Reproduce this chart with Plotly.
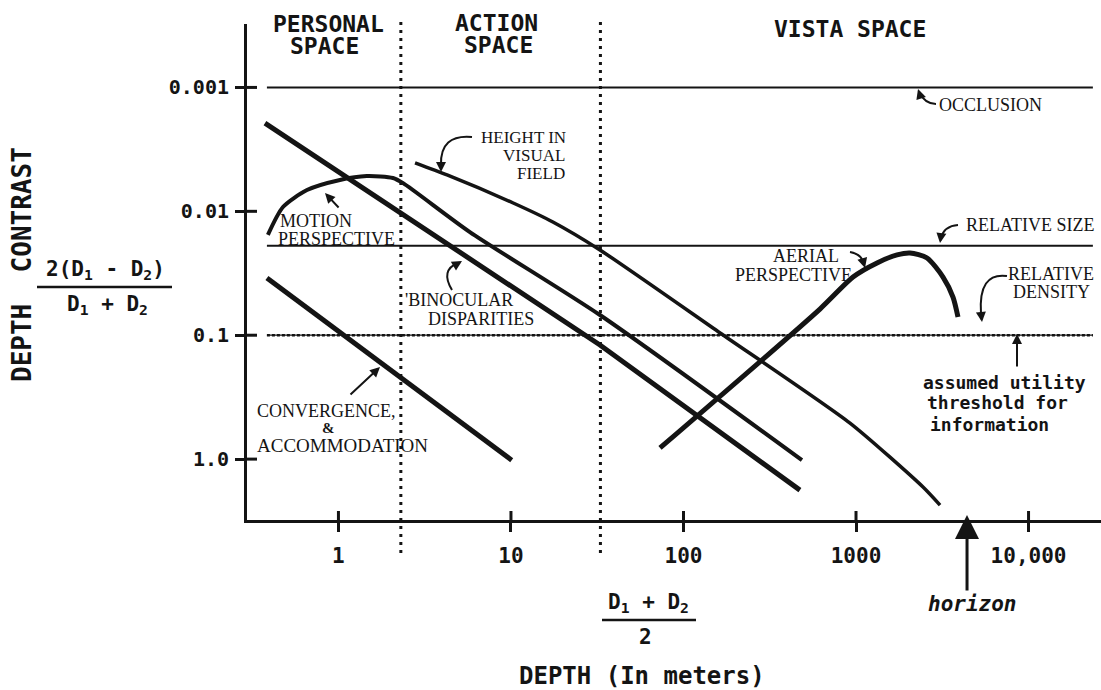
import math
import plotly.graph_objects as go

# ---------------- data ----------------
x_tick_vals = [1, 10, 100, 1000, 10000]
x_tick_text = ["1", "10", "100", "1000", "10,000"]
y_tick_vals = [0.001, 0.01, 0.1, 1.0]
y_tick_text = ["0.001", "0.01", "0.1", "1.0"]

space_bounds_m = [2.3, 33]          # personal|action, action|vista
horizon_m = 4400

occlusion_x = [0.385, 23600]
occlusion_y = [0.001, 0.001]
rel_size_x = [0.385, 23600]
rel_size_y = [0.019, 0.019]
threshold_x = [0.385, 23600]
threshold_y = [0.1, 0.1]

binoc_x = [0.375, 32.8, 473]
binoc_y = [0.00194, 0.120, 1.78]

motion_x = [0.390, 0.477, 0.657, 1.02, 1.46, 2.07, 2.37, 5.78, 32.8, 486]
motion_y = [0.0155, 0.00923, 0.00673, 0.00558, 0.00519, 0.00538, 0.00592, 0.0147, 0.0687, 1.02]

height_x = [2.78, 4.26, 10.3, 17.5, 32.8, 163, 923, 2445, 3069]
height_y = [0.00407, 0.00509, 0.00857, 0.0122, 0.0205, 0.0959, 0.512, 1.68, 2.35]

conv_x = [0.385, 10.1]
conv_y = [0.0345, 1.02]

aerial_x = [73.1, 618, 961, 1324, 1729, 2056, 2581, 3194, 3649, 3900]
aerial_y = [0.813, 0.0615, 0.0339, 0.0261, 0.0225, 0.0217, 0.0238, 0.0339, 0.0492, 0.0713]

# ---------------- layout helpers ----------------
W, H = 1101, 690
ML, MR, MT, MB = 247, 0, 24, 170
PW, PH = W - ML - MR, H - MT - MB
INK = "#141414"
SERIF = "Liberation Serif, Times New Roman, serif"
MONO = "DejaVu Sans Mono, monospace"


def px(xp):
    return (xp - ML) / PW


def py(yp):
    return (H - MB - yp) / PH


fig = go.Figure()


def line(x, y, w, spline=False, smooth=0.6, dash=None):
    fig.add_trace(go.Scatter(
        x=x, y=y, mode="lines", hoverinfo="skip", showlegend=False,
        line=dict(color=INK, width=w, dash=dash,
                  shape="spline" if spline else "linear", smoothing=smooth)))


line(occlusion_x, occlusion_y, 2)
line(rel_size_x, rel_size_y, 2)
line(threshold_x, threshold_y, 1.2)
line(threshold_x, threshold_y, 2.6, dash="3px,2px")
line(binoc_x, binoc_y, 5)
line(motion_x, motion_y, 4, spline=True, smooth=0.7)
line(height_x, height_y, 3.5, spline=True, smooth=0.6)
line(conv_x, conv_y, 5)
line(aerial_x, aerial_y, 5, spline=True, smooth=0.7)

shapes = []
# space boundaries (dotted verticals)
for b in space_bounds_m:
    shapes.append(dict(type="line", xref="x", yref="paper", x0=b, x1=b,
                       y0=py(553), y1=py(21),
                       line=dict(color=INK, width=3, dash="3px,5px")))
# inner halves of tick marks
for v in x_tick_vals:
    shapes.append(dict(type="line", xref="x", yref="paper", ysizemode="pixel",
                       yanchor=0, x0=v, x1=v, y0=0, y1=9,
                       line=dict(color=INK, width=3)))
for v in y_tick_vals:
    shapes.append(dict(type="line", yref="y", xref="paper", xsizemode="pixel",
                       xanchor=0, y0=v, y1=v, x0=0, x1=10,
                       line=dict(color=INK, width=3)))
# fraction bars
shapes.append(dict(type="line", xref="paper", yref="paper",
                   x0=px(37), x1=px(172), y0=py(287), y1=py(287),
                   line=dict(color=INK, width=2.5)))
shapes.append(dict(type="line", xref="paper", yref="paper",
                   x0=px(602), x1=px(696), y0=py(620), y1=py(620),
                   line=dict(color=INK, width=2.5)))


def curve(p0, c, p1, w=2):
    path = "M {} {} Q {} {} {} {}".format(px(p0[0]), py(p0[1]), px(c[0]), py(c[1]),
                                          px(p1[0]), py(p1[1]))
    shapes.append(dict(type="path", xref="paper", yref="paper", path=path,
                       line=dict(color=INK, width=w)))


ann = []


def text(x, y, t, family=SERIF, size=18, anchor="center", bold=False, italic=False, angle=0):
    ann.append(dict(xref="paper", yref="paper", x=px(x), y=py(y), text=t,
                    showarrow=False, xanchor=anchor, yanchor="middle", textangle=angle,
                    borderpad=0,
                    font=dict(family=family, size=size, color=INK,
                              weight="bold" if bold else "normal",
                              style="italic" if italic else "normal")))


def arrow(head, tail, w=2, size=1.0, head_style=2):
    ann.append(dict(xref="paper", yref="paper", x=px(head[0]), y=py(head[1]),
                    ax=tail[0] - head[0], ay=tail[1] - head[1], text="",
                    showarrow=True, arrowhead=head_style, arrowsize=size,
                    arrowwidth=w, arrowcolor=INK, standoff=0, startstandoff=0))


# headings
text(328, 24, "PERSONAL", MONO, 23, bold=True)
text(324, 46, "SPACE", MONO, 23, bold=True)
text(496, 23, "ACTION", MONO, 23, bold=True)
text(498, 45, "SPACE", MONO, 23, bold=True)
text(850, 29, "VISTA SPACE", MONO, 23, bold=True)

# curve labels
text(938, 105, "OCCLUSION", anchor="left")
curve((936, 104), (925, 104), (919, 92))
arrow((918, 89), (920, 95))

text(1095, 225, "RELATIVE SIZE", anchor="right")
curve((958, 225), (944, 226), (941, 238))
arrow((940, 243), (941, 236))

text(567, 137, "HEIGHT IN", anchor="right", size=17)
text(566, 155, "VISUAL", anchor="right", size=17)
text(566, 174, "FIELD", anchor="right", size=17)
curve((472, 137), (440, 134), (441, 165))
arrow((441, 172), (441, 164))

text(279, 221, "MOTION", anchor="left")
text(277, 239, "PERSPECTIVE", anchor="left")
arrow((325, 193), (340, 209))

text(404, 300, "'BINOCULAR", anchor="left")
text(427, 319, "DISPARITIES", anchor="left")
curve((452, 290), (440, 270), (458, 263))
arrow((462, 261), (457, 264))

text(256, 411, "CONVERGENCE,", anchor="left")
text(328, 428, "&", size=15, bold=True)
text(256, 445, "ACCOMMODATION", anchor="left", size=19)
arrow((380, 367), (349, 396))

text(840, 256, "AERIAL", anchor="right")
text(853, 275, "PERSPECTIVE", anchor="right")
curve((850, 252), (861, 254), (863, 262))
arrow((865, 268), (863, 261))

text(1095, 274, "RELATIVE", anchor="right")
text(1091, 292, "DENSITY", anchor="right")
curve((1007, 276), (978, 272), (981, 314))
arrow((982, 322), (981, 313))

text(922, 382, "assumed utility", MONO, 18, anchor="left", bold=True)
text(926, 402, "threshold for", MONO, 18, anchor="left", bold=True)
text(929, 424, "information", MONO, 18, anchor="left", bold=True)
arrow((1017, 334), (1017, 368))

# horizon
ann.append(dict(xref="x", yref="paper", x=math.log10(horizon_m), y=py(515),
                ax=0, ay=77, text="", showarrow=True, arrowhead=2, arrowsize=1.6,
                arrowwidth=3, arrowcolor=INK, standoff=0))
text(972, 604, "horizon", MONO, 21, bold=True, italic=True)

# axis titles
text(648, 603, "D<sub>1</sub> + D<sub>2</sub>", MONO, 21, bold=True)
text(645, 637, "2", MONO, 21, bold=True)
text(642, 676, "DEPTH (In meters)", MONO, 24, bold=True)

text(105, 270, "2(D<sub>1</sub> - D<sub>2</sub>)", MONO, 21, bold=True)
text(107, 305, "D<sub>1</sub> + D<sub>2</sub>", MONO, 21, bold=True)
text(22, 265, "DEPTH  CONTRAST", MONO, 26, bold=True, angle=-90)

fig.update_layout(
    width=W, height=H,
    margin=dict(l=ML, r=MR, t=MT, b=MB, pad=0),
    paper_bgcolor="white", plot_bgcolor="white",
    showlegend=False,
    shapes=shapes, annotations=ann,
    xaxis=dict(type="log", range=[-0.530, 4.420], showgrid=False, zeroline=False,
               showline=True, linewidth=3, linecolor=INK,
               ticks="outside", ticklen=9, tickwidth=3, tickcolor=INK,
               tickvals=x_tick_vals, ticktext=x_tick_text, ticklabelstandoff=6,
               tickfont=dict(family=MONO, size=21, color=INK, weight="bold")),
    yaxis=dict(type="log", range=[0.4915, -3.512], showgrid=False, zeroline=False,
               showline=True, linewidth=3, linecolor=INK,
               ticks="outside", ticklen=9, tickwidth=3, tickcolor=INK,
               tickvals=y_tick_vals, ticktext=y_tick_text, ticklabelstandoff=2,
               tickfont=dict(family=MONO, size=20, color=INK, weight="bold")),
)

fig.write_html("out.html", config={"displayModeBar": False},
               post_script="document.body.style.margin='0';document.body.style.padding='0';"
                           "document.body.style.overflow='hidden';")
